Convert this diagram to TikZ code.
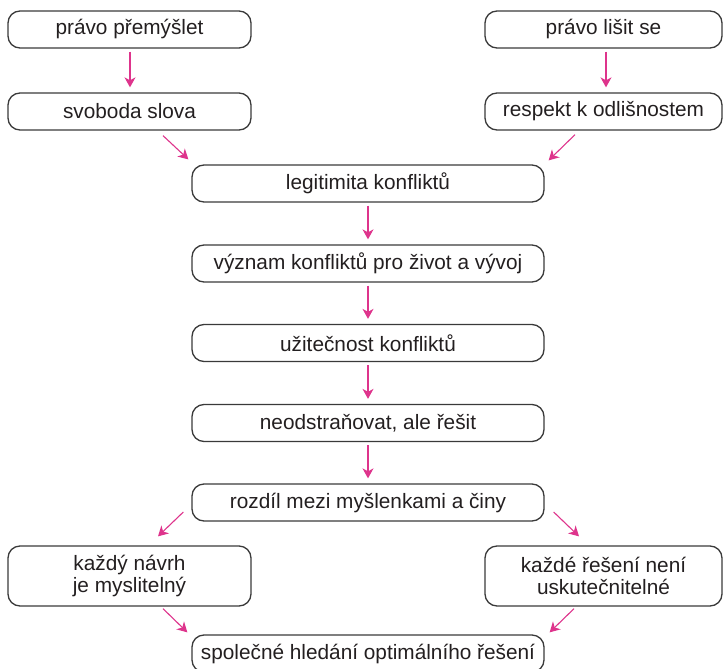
\documentclass[tikz,border=0pt]{standalone}
\usepackage{fontspec}
\setmainfont{Liberation Sans}
\usetikzlibrary{arrows.meta,calc}
\definecolor{boxline}{HTML}{3A3A3A}
\definecolor{arrowpink}{HTML}{DE348C}
\definecolor{textgray}{HTML}{231F20}
\begin{document}
\begin{tikzpicture}[x=1pt,y=-1pt,
  box/.style={draw=boxline, line width=1.3pt, rounded corners=12pt, inner sep=0pt,
    align=center, text=textgray, font=\fontsize{20.8}{22}\selectfont, minimum height=37pt},
  sidebox/.style={box, minimum width=243pt},
  rightbox/.style={box, minimum width=237pt},
  midbox/.style={box, minimum width=352pt},
  link/.style={draw=arrowpink, line width=1.1pt, -{Stealth[length=10pt,width=11pt,inset=3pt]}},
]
\path[use as bounding box, clip] (0,0) rectangle (723,669);

% two starting branches
\node[sidebox] (a1) at (129.5,29.5) {právo přemýšlet};
\node[sidebox] (a2) at (129.5,111.5) {svoboda slova};
\node[rightbox] (b1) at (603.5,29.5) {právo lišit se};
\node[rightbox] (b2) at (603.5,111.5) {respekt k odlišnostem};

% central chain
\node[midbox] (c1) at (368,183.5) {legitimita konfliktů};
\node[midbox] (c2) at (368,263.5) {význam konfliktů pro život a vývoj};
\node[midbox] (c3) at (368,343) {užitečnost konfliktů};
\node[midbox] (c4) at (368,423) {neodstraňovat, ale řešit};
\node[midbox] (c5) at (368,502.5) {rozdíl mezi myšlenkami a činy};

% split and merge
\node[sidebox, minimum height=60pt] (d1) at (129.5,576) {každý návrh\\je myslitelný};
\node[rightbox, minimum height=60pt] (d2) at (603.5,576) {každé řešení není\\uskutečnitelné};
\node[midbox] (e) at (368,653.5) {společné hledání optimálního řešení};

% connectors
\draw[link] ($(a1.south)+(0.5,3)$) -- ($(a2.north)+(0.5,-5)$);
\draw[link] ($(b1.south)+(2.5,3)$) -- ($(b2.north)+(2.5,-5)$);
\draw[link] ($(a2.south)+(33.5,5)$) -- ($(c1.north west)+(-3,-5)$);
\draw[link] ($(b2.south)+(-28.5,4)$) -- ($(c1.north east)+(4,-4)$);
\foreach \u/\v in {c1/c2, c2/c3, c3/c4, c4/c5}
  \draw[link] ($(\u.south)+(0,3)$) -- ($(\v.north)+(0,-5)$);
\draw[link] ($(c5.west)+(-8,9.5)$) -- ($(d1.north)+(28.5,-9)$);
\draw[link] ($(c5.east)+(9,9.5)$) -- ($(d2.north)+(-24.5,-9)$);
\draw[link] ($(d1.south)+(33.5,2)$) -- ($(e.north west)+(-4,-2)$);
\draw[link] ($(d2.south)+(-29.5,2)$) -- ($(e.north east)+(5,-2)$);
\end{tikzpicture}
\end{document}
